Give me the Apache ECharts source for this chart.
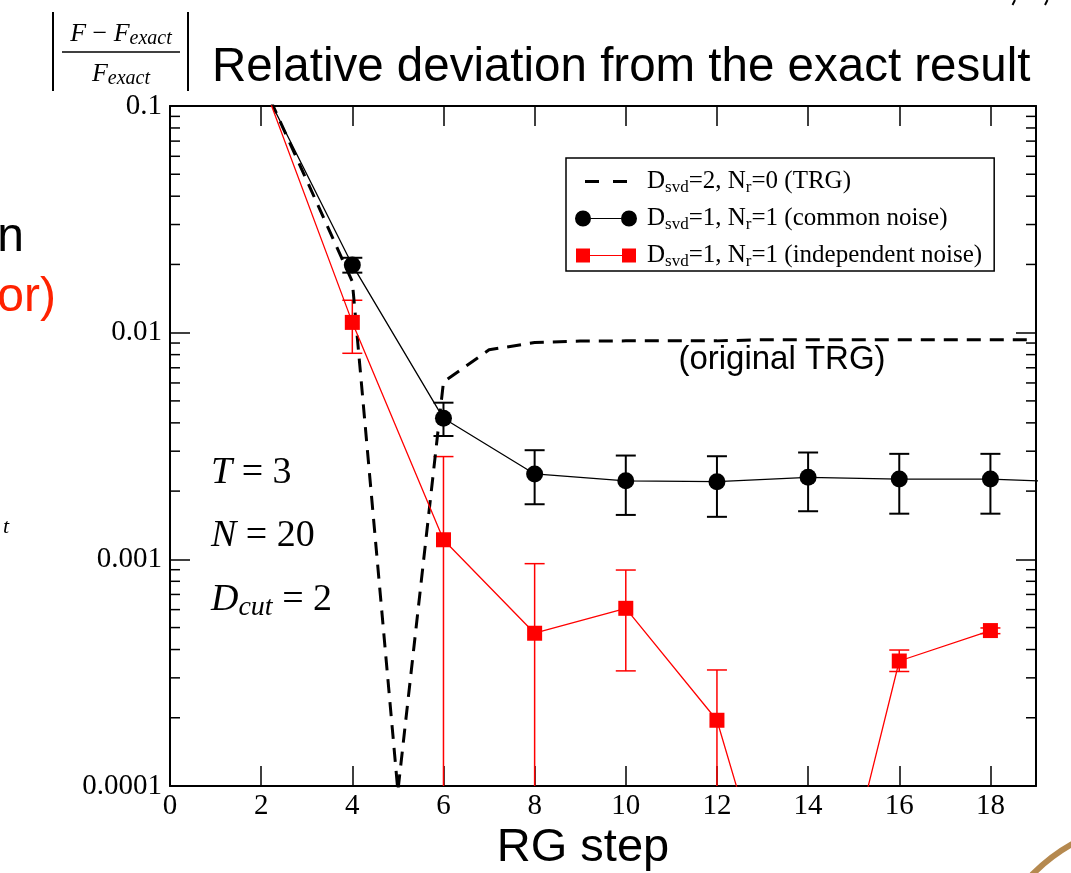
<!DOCTYPE html>
<html>
<head>
<meta charset="utf-8">
<script src="https://cdn.jsdelivr.net/npm/echarts@6/dist/echarts.min.js"></script>
<style>
  html, body { margin: 0; padding: 0; background: #fff; }
  #chart { width: 1071px; height: 873px; }
</style>
</head>
<body>
<div id="chart"></div>
<script>
// D_svd=2, N_r=0 (TRG), every RG step
const trgSteps = [2, 3, 4, 5, 6, 7, 8, 9, 10, 11, 12, 13, 14, 15, 16, 17, 18, 19];
const trgDev = [0.131, 0.047, 0.0168, 0.000095, 0.00606, 0.0084, 0.00905, 0.00918, 0.0092,
  0.0092, 0.0092, 0.0093, 0.0093, 0.0093, 0.0093, 0.0093, 0.0093, 0.0093];

// D_svd=1, N_r=1 (common noise)
const commonSteps = [2, 4, 6, 8, 10, 12, 14, 16, 18, 20];
const commonDev = [0.126, 0.0199, 0.00419, 0.00238, 0.00222, 0.0022, 0.0023, 0.00226, 0.00226, 0.00218];
const commonLo = [null, 0.0184, 0.0035, 0.00175, 0.00157, 0.00154, 0.00163, 0.00159, 0.00159, null];
const commonHi = [null, 0.0214, 0.00491, 0.00303, 0.00287, 0.00285, 0.00296, 0.00292, 0.00292, null];

// D_svd=1, N_r=1 (independent noise); lower bound 0 = error bar reaches below zero
const indepSteps = [2, 4, 6, 8, 10, 12, 14, 16, 18];
const indepDev = [0.133, 0.0111, 0.00122, 0.000472, 0.000608, 0.000195, 0.0000085, 0.000356, 0.000485];
const indepLo = [null, 0.00811, 0, 0, 0.000322, 0, null, 0.00032, 0.00047];
const indepHi = [null, 0.0139, 0.00284, 0.000957, 0.000897, 0.000325, null, 0.000398, 0.000498];

const yTickLabels = ['0.0001', '0.001', '0.01', '0.1'];
const yMinorTicks = [
  0.0002, 0.0003, 0.0004, 0.0005, 0.0006, 0.0007, 0.0008, 0.0009,
  0.002, 0.003, 0.004, 0.005, 0.006, 0.007, 0.008, 0.009,
  0.02, 0.03, 0.04, 0.05, 0.06, 0.07, 0.08, 0.09
];

const legendLabels = {
  trg: '{n|D}{s|svd}{n|=2, N}{s|r}{n|=0 (TRG)}',
  common: '{n|D}{s|svd}{n|=1, N}{s|r}{n|=1 (common noise)}',
  indep: '{n|D}{s|svd}{n|=1, N}{s|r}{n|=1 (independent noise)}'
};

const serif = "'Liberation Serif', 'DejaVu Serif', serif";
const sans = "'Liberation Sans', Arial, sans-serif";

const pairs = (xs, ys) => xs.map((x, i) => [x, ys[i]]);
const bars = (xs, lo, hi) => xs.map((x, i) => [x, lo[i], hi[i]]).filter(d => d[2] != null);

// vertical error bar with caps
function errorBar(capHalf, color, width) {
  return function (params, api) {
    const cs = params.coordSys;
    const x = api.value(0);
    const lo = api.value(1);
    const top = api.coord([x, api.value(2)]);
    const px = top[0];
    const bottomY = lo > 0 ? api.coord([x, lo])[1] : cs.y + cs.height;
    const style = { stroke: color, lineWidth: width };
    const children = [
      { type: 'line', shape: { x1: px, y1: top[1], x2: px, y2: bottomY }, style },
      { type: 'line', shape: { x1: px - capHalf, y1: top[1], x2: px + capHalf, y2: top[1] }, style }
    ];
    if (lo > 0) {
      children.push({ type: 'line', shape: { x1: px - capHalf, y1: bottomY, x2: px + capHalf, y2: bottomY }, style });
    }
    return { type: 'group', children };
  };
}

// log minor ticks on both vertical frame sides
function minorTick(params, api) {
  const cs = params.coordSys;
  const y = api.coord([0, api.value(1)])[1];
  const style = { stroke: '#000', lineWidth: 1.5 };
  return {
    type: 'group',
    children: [
      { type: 'line', shape: { x1: cs.x, y1: y, x2: cs.x + 10, y2: y }, style },
      { type: 'line', shape: { x1: cs.x + cs.width, y1: y, x2: cs.x + cs.width - 10, y2: y }, style }
    ]
  };
}

const chart = echarts.init(document.getElementById('chart'));

const axisX = (pos, showLabel) => ({
  type: 'value', position: pos, min: 0, max: 19, interval: 2,
  axisLine: { show: true, onZero: false, lineStyle: { color: '#000', width: 2 } },
  axisTick: { show: true, inside: true, length: 20, lineStyle: { color: '#000', width: 1.5 } },
  axisLabel: { show: showLabel, showMaxLabel: false, color: '#000', fontFamily: serif, fontSize: 29, margin: 6 },
  splitLine: { show: false }
});
const axisY = (pos, showLabel) => ({
  type: 'log', logBase: 10, position: pos, min: 0.0001, max: 0.1,
  axisLine: { show: true, onZero: false, lineStyle: { color: '#000', width: 2 } },
  axisTick: { show: true, inside: true, length: 20, lineStyle: { color: '#000', width: 1.5 } },
  axisLabel: {
    show: showLabel, color: '#000', fontFamily: serif, fontSize: 29, margin: 8,
    formatter: v => yTickLabels[Math.round(Math.log10(v)) + 4]
  },
  splitLine: { show: false }, minorTick: { show: false }
});

const mathRich = (size, subSize, subPad) => ({
  i: { fontFamily: serif, fontStyle: 'italic', fontSize: size, color: '#000' },
  u: { fontFamily: serif, fontSize: size, color: '#000' },
  s: { fontFamily: serif, fontStyle: 'italic', fontSize: subSize, color: '#000', padding: [subPad, 0, 0, 0] }
});

const option = {
  backgroundColor: '#fff',
  animation: false,
  grid: { left: 170, top: 106, width: 866, height: 680 },
  xAxis: [axisX('bottom', true), axisX('top', false)],
  yAxis: [axisY('left', true), axisY('right', false)],
  legend: {
    left: 566, top: 158, orient: 'vertical',
    padding: [11, 12, 1, 9], itemGap: 10,
    itemWidth: 62, itemHeight: 16,
    borderColor: '#000', borderWidth: 1.5, backgroundColor: '#fff',
    itemStyle: { borderWidth: 0 },
    data: [
      { name: 'trg', icon: 'path://M0,0L0.01,0Z M62,16L61.99,16Z M10,6.5H24V9.5H10Z M38,6.5H52V9.5H38Z' },
      { name: 'common', icon: 'path://M0,8a8,8 0 1,0 16,0a8,8 0 1,0 -16,0Z M16,7.4H46V8.6H16Z M46,8a8,8 0 1,0 16,0a8,8 0 1,0 -16,0Z' },
      { name: 'indep', icon: 'path://M0,0L0.01,0Z M62,16L61.99,16Z M1,1H15V15H1Z M15,7.4H47V8.6H15Z M47,1H61V15H47Z' }
    ],
    formatter: name => legendLabels[name],
    textStyle: {
      padding: [0, 0, 0, 5],
      rich: {
        n: { fontFamily: serif, fontSize: 25, color: '#000' },
        s: { fontFamily: serif, fontSize: 17, color: '#000', padding: [12, 0, 0, 0] }
      }
    }
  },
  series: [
    {
      type: 'custom', name: 'minor', coordinateSystem: 'cartesian2d', silent: true, z: 1,
      renderItem: minorTick, data: yMinorTicks.map(v => [0, v])
    },
    {
      type: 'custom', name: 'commonErr', renderItem: errorBar(10, '#000', 2), clip: true, z: 2,
      encode: { x: 0, y: 2 }, data: bars(commonSteps, commonLo, commonHi)
    },
    {
      type: 'custom', name: 'indepErr', renderItem: errorBar(10, '#ff0000', 1.5), clip: true, z: 2,
      encode: { x: 0, y: 2 }, data: bars(indepSteps, indepLo, indepHi)
    },
    {
      type: 'line', name: 'trg', data: pairs(trgSteps, trgDev), clip: true, z: 3,
      showSymbol: false, symbol: 'none',
      itemStyle: { color: '#000' },
      lineStyle: { color: '#000', width: 3, type: [14, 9] }
    },
    {
      type: 'line', name: 'common', data: pairs(commonSteps, commonDev), clip: true, z: 4,
      symbol: 'circle', symbolSize: 17,
      itemStyle: { color: '#000' },
      lineStyle: { color: '#000', width: 1.3 }
    },
    {
      type: 'line', name: 'indep', data: pairs(indepSteps, indepDev), clip: true, z: 4,
      symbol: 'rect', symbolSize: 15,
      itemStyle: { color: '#ff0000' },
      lineStyle: { color: '#ff0000', width: 1.3 }
    }
  ],
  graphic: [
    // |(F - F_exact) / F_exact|
    { type: 'line', shape: { x1: 53, y1: 12, x2: 53, y2: 91 }, style: { stroke: '#000', lineWidth: 2 } },
    { type: 'line', shape: { x1: 188, y1: 12, x2: 188, y2: 91 }, style: { stroke: '#000', lineWidth: 2 } },
    { type: 'line', shape: { x1: 62, y1: 52, x2: 180, y2: 52 }, style: { stroke: '#000', lineWidth: 1.5 } },
    {
      type: 'text', x: 121, y: 34,
      style: { text: '{i|F}{u| − }{i|F}{s|exact}', align: 'center', verticalAlign: 'middle', rich: mathRich(26, 20, 10) }
    },
    {
      type: 'text', x: 121, y: 74,
      style: { text: '{i|F}{s|exact}', align: 'center', verticalAlign: 'middle', rich: mathRich(26, 20, 10) }
    },
    {
      type: 'text', x: 212, y: 68,
      style: { text: 'Relative deviation from the exact result', font: '47.5px ' + sans, fill: '#000', verticalAlign: 'middle' }
    },
    {
      type: 'text', x: 583, y: 848,
      style: { text: 'RG step', font: '47px ' + sans, fill: '#000', align: 'center', verticalAlign: 'middle' }
    },
    {
      type: 'text', x: 782, y: 360,
      style: { text: '(original TRG)', font: '33px ' + sans, fill: '#000', align: 'center', verticalAlign: 'middle' }
    },
    // parameters
    { type: 'text', x: 211, y: 473, style: { text: '{i|T}{u| = 3}', verticalAlign: 'middle', rich: mathRich(38, 28, 16) } },
    { type: 'text', x: 211, y: 536, style: { text: '{i|N}{u| = 20}', verticalAlign: 'middle', rich: mathRich(38, 28, 16) } },
    { type: 'text', x: 211, y: 600, style: { text: '{i|D}{s|cut}{u| = 2}', verticalAlign: 'middle', rich: mathRich(38, 28, 16) } },
    // cut-off slide text on the left
    { type: 'text', x: 24, y: 262, style: { text: 'n', font: '48px ' + sans, fill: '#000', align: 'right', verticalAlign: 'bottom' } },
    { type: 'text', x: 56, y: 322, style: { text: 'or)', font: '48px ' + sans, fill: '#ff2200', align: 'right', verticalAlign: 'bottom' } },
    { type: 'text', x: 9, y: 538, style: { text: 't', font: 'italic 22px ' + serif, fill: '#000', align: 'right', verticalAlign: 'bottom' } },
    // page-number marks at the top right
    { type: 'line', shape: { x1: 1015, y1: 0, x2: 1012.5, y2: 5 }, style: { stroke: '#000', lineWidth: 2 } },
    { type: 'line', shape: { x1: 1047.5, y1: 0, x2: 1045, y2: 5 }, style: { stroke: '#000', lineWidth: 2 } },
    // decorative arc at the bottom right
    { type: 'circle', shape: { cx: 1160, cy: 1000, r: 179 }, style: { fill: 'none', stroke: '#b5894f', lineWidth: 6 } }
  ]
};

chart.setOption(option);
</script>
</body>
</html>
